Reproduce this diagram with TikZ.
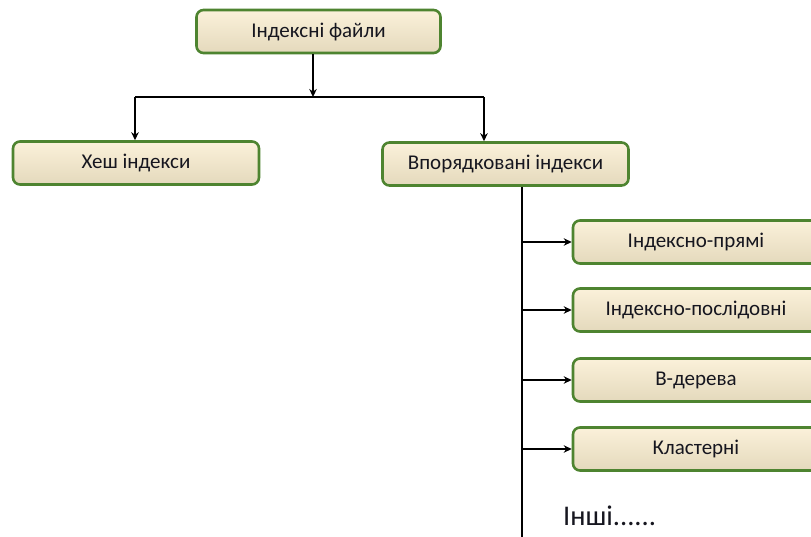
\documentclass[tikz,border=0pt]{standalone}
\usepackage{fontspec}
\setmainfont{Carlito}
\usetikzlibrary{arrows.meta}
\definecolor{boxedge}{HTML}{4E8430}
\definecolor{boxtop}{HTML}{FBF1DA}
\definecolor{boxbot}{HTML}{E4D9BC}
\definecolor{ink}{HTML}{16161F}
\tikzset{
  idxbox/.style={draw=boxedge, line width=2.6pt, rounded corners=7pt,
    top color=boxtop, bottom color=boxbot, minimum width=246pt,
    minimum height=43pt, inner sep=0pt, text=ink, font=\fontsize{21pt}{24pt}\selectfont},
  wire/.style={line width=1.9pt, black},
  arr/.style={wire, -{Stealth[length=8pt,width=7.5pt]}},
}
\begin{document}
\begin{tikzpicture}[x=1pt, y=-1pt]
  \useasboundingbox (0,0) rectangle (811,536);
  \clip (0,0) rectangle (811,536);
  \fill[white] (0,0) rectangle (811,536);

  % top level
  \node[idxbox, minimum width=244pt] (files) at (318.5,31.5) {Індексні файли};
  % second level
  \node[idxbox] (hash) at (136,163) {Хеш індекси};
  \node[idxbox] (ord) at (505.5,164) {Впорядковані індекси};
  % kinds of ordered indexes
  \node[idxbox] (r1) at (696,242) {Індексно-прямі};
  \node[idxbox] (r2) at (696,310) {Індексно-послідовні};
  \node[idxbox] (r3) at (696,380) {В-дерева};
  \node[idxbox] (r4) at (696,449) {Кластерні};
  \node[anchor=base west, text=ink, font=\fontsize{28.5pt}{32pt}\selectfont, inner sep=0pt]
    (other) at (563,525) {Інші......};

  % branching under the root
  \coordinate (jm) at (313,97);
  \coordinate (jl) at (135,97);
  \coordinate (jr) at (484,97);
  \draw[arr] (files.south -| jm) -- (jm);
  \draw[wire] (jl) -- (jr);
  \draw[arr] (jl) -- (jl |- hash.north);
  \draw[arr] (jr) -- (jr |- ord.north);

  % trunk with side arrows
  \coordinate (tr) at (522,540);
  \draw[wire] (ord.south -| tr) -- (tr);
  \foreach \n in {r1,r2,r3,r4}
    \draw[arr] (\n.west -| tr) -- (\n.west);
\end{tikzpicture}
\end{document}
